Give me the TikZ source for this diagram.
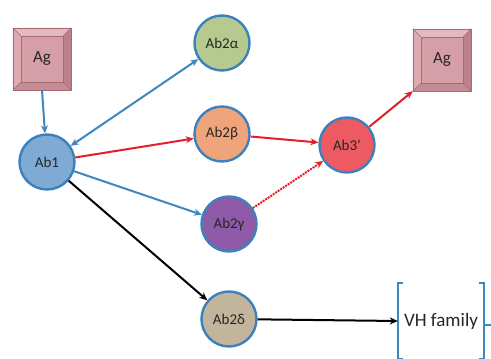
\documentclass[tikz,border=0pt]{standalone}
\usepackage{fontspec}
\setmainfont{Carlito}
\usetikzlibrary{arrows.meta}
\definecolor{cborder}{HTML}{3C80BD}
\definecolor{ablue}{HTML}{3C88C2}
\definecolor{ared}{HTML}{E41E2B}
\definecolor{agface}{HTML}{D69EA7}
\definecolor{agtop}{HTML}{E4BAC0}
\definecolor{agleft}{HTML}{DDAAB2}
\definecolor{agright}{HTML}{BC808B}
\definecolor{agbot}{HTML}{C68C96}
\definecolor{agline}{HTML}{A56A76}
\definecolor{cab1}{HTML}{7EAAD4}
\definecolor{cala}{HTML}{B6CA8F}
\definecolor{cbeta}{HTML}{F0A47B}
\definecolor{cgam}{HTML}{8F5AA7}
\definecolor{cdel}{HTML}{C3B59B}
\definecolor{cab3}{HTML}{EE5A62}
\definecolor{txt}{HTML}{262626}
\tikzset{
  cell/.style={circle, draw=cborder, line width=2.4pt, minimum size=55pt, inner sep=0pt, text=txt, font=\fontsize{15}{17}\selectfont},
  agbox/.style={rectangle, minimum width=58pt, minimum height=62pt, inner sep=0pt, text=txt, font=\fontsize{17}{19}\selectfont},
  conn/.style={line width=2pt, -{Stealth[length=8pt,width=7pt]}},
  bconn/.style={line width=2pt, {Stealth[length=8pt,width=7pt]}-{Stealth[length=8pt,width=7pt]}},
  brk/.style={draw=ablue, line width=2pt},
}
\newcommand{\bevelbox}[1]{%
  \fill[agface] (#1.north west) rectangle (#1.south east);
  \fill[agtop] (#1.north west) -- (#1.north east) -- ([shift={(-8pt,-8pt)}]#1.north east) -- ([shift={(8pt,-8pt)}]#1.north west) -- cycle;
  \fill[agleft] (#1.north west) -- (#1.south west) -- ([shift={(8pt,8pt)}]#1.south west) -- ([shift={(8pt,-8pt)}]#1.north west) -- cycle;
  \fill[agright] (#1.north east) -- (#1.south east) -- ([shift={(-8pt,8pt)}]#1.south east) -- ([shift={(-8pt,-8pt)}]#1.north east) -- cycle;
  \fill[agbot] (#1.south west) -- (#1.south east) -- ([shift={(-8pt,8pt)}]#1.south east) -- ([shift={(8pt,8pt)}]#1.south west) -- cycle;
  \draw[agline, line width=0.5pt] (#1.north west) rectangle (#1.south east);
  \draw[agline, line width=0.5pt] ([shift={(8pt,-8pt)}]#1.north west) rectangle ([shift={(-8pt,8pt)}]#1.south east);
  \draw[agline, line width=0.4pt] (#1.north west) -- ([shift={(8pt,-8pt)}]#1.north west)
    (#1.north east) -- ([shift={(-8pt,-8pt)}]#1.north east)
    (#1.south west) -- ([shift={(8pt,8pt)}]#1.south west)
    (#1.south east) -- ([shift={(-8pt,8pt)}]#1.south east);
}
\begin{document}
\begin{tikzpicture}[x=1pt,y=-1pt]
\useasboundingbox (0,0) rectangle (491,359);
\fill[white] (0,0) rectangle (491,359);
% Ag boxes (shapes)
\node[agbox] (ag1) at (42,59) {};
\bevelbox{ag1}
\node[agbox] at (ag1) {Ag};
\node[agbox] (ag2) at (442,60) {};
\bevelbox{ag2}
\node[agbox] at (ag2) {Ag};
% circles
\node[cell, fill=cab1] (ab1) at (47,162) {Ab1};
\node[cell, fill=cala] (a2a) at (222,43) {Ab2α};
\node[cell, fill=cbeta] (a2b) at (222,134) {Ab2β};
\node[cell, fill=cgam] (a2g) at (229,224) {Ab2γ};
\node[cell, fill=cdel] (a2d) at (229,319) {Ab2δ};
\node[cell, fill=cab3] (ab3) at (347,145) {Ab3’};
% VH family
\node[font=\fontsize{19}{21}\selectfont, text=txt, minimum width=86pt, minimum height=76pt, inner sep=0pt] (vh) at (441,321) {VH family};
\draw[brk] ([xshift=5pt]vh.north west) -- (vh.north west) -- (vh.south west) -- ([xshift=5pt]vh.south west);
\draw[brk] ([xshift=-5pt]vh.north east) -- (vh.north east) -- (vh.south east) -- ([xshift=-5pt]vh.south east);
\coordinate (tick) at (491,325);
\draw[brk] (vh.east |- tick) -- (tick);
% connectors
\draw[conn, ablue] (ag1.south) -- (ab1);
\draw[bconn, ablue] (ab1) -- (a2a);
\draw[conn, ared] (ab1) -- (a2b);
\draw[conn, ablue] (ab1) -- (a2g);
\draw[conn, black] (ab1) -- (a2d);
\draw[conn, ared] (a2b) -- (ab3);
\draw[conn, ared, densely dotted] (a2g) -- (ab3);
\draw[conn, ared] (ab3) -- (ag2.south west);
\draw[conn, black] (a2d) -- (vh.west);
\end{tikzpicture}
\end{document}
